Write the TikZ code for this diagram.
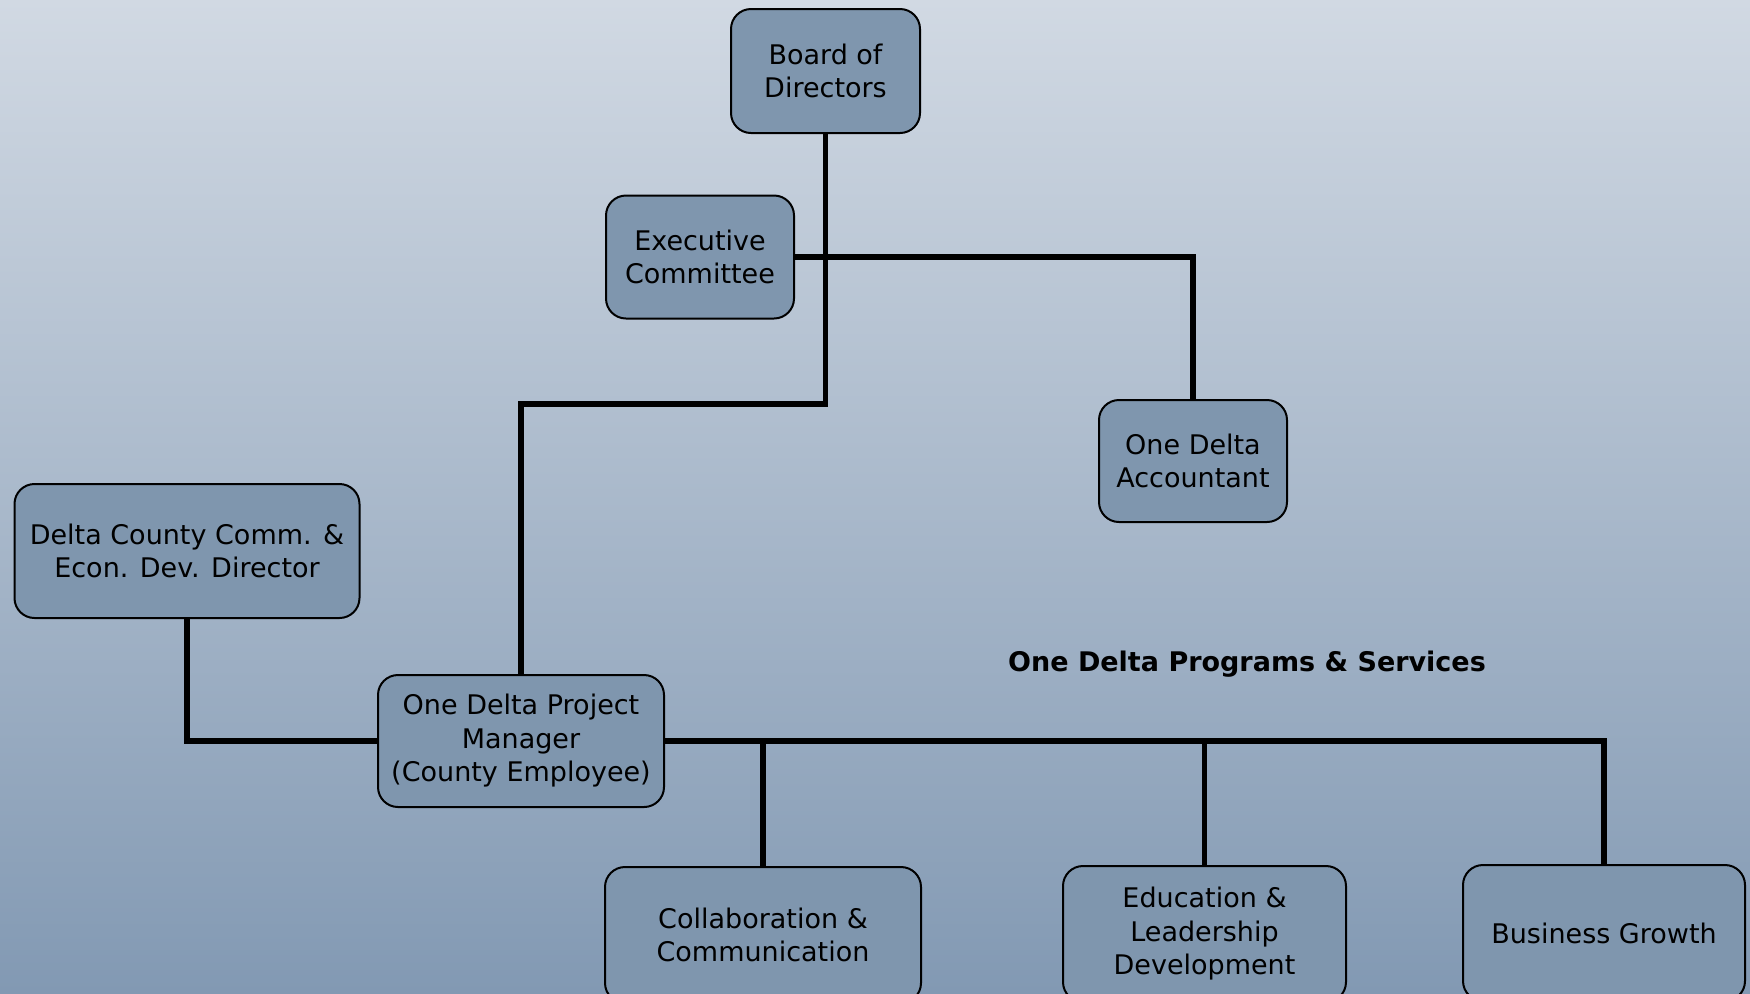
\documentclass[tikz,border=0pt]{standalone}
\usepackage{fontspec}
\setmainfont{DejaVu Sans}
\definecolor{bgtop}{HTML}{D1D9E3}
\definecolor{bgbot}{HTML}{8299B3}
\definecolor{boxfill}{HTML}{7F96AE}
\tikzset{
	box/.style={draw, fill=boxfill, rounded corners=10pt, line width=1pt, align=center, inner sep=2pt,
		font=\fontsize{13.5}{16.75}\selectfont},
	link/.style={line width=2.6pt}
}
\begin{document}
\begin{tikzpicture}[x=0.5pt, y=-0.5pt]
				%background
				\useasboundingbox (0,0) rectangle (1750,993);
				\shade[top color=bgtop, bottom color=bgbot] (0,0) rectangle (1750,993);
				%boxes
				\node[box, minimum width=94.5pt, minimum height=62pt] (board) at (825.5,71) {Board of\\Directors};
				\node[box, minimum width=94pt, minimum height=61.5pt] (exec) at (700,257) {Executive\\Committee};
				\node[box, minimum width=94pt, minimum height=61pt] (acct) at (1193,461) {One Delta\\Accountant};
				\node[box, minimum width=172.5pt, minimum height=67pt] (delta) at (187,551) {Delta County Comm. \&\\Econ. Dev. Director};
				\node[box, minimum width=143pt, minimum height=66pt] (pm) at (521,741) {One Delta Project\\Manager\\(County Employee)};
				\node[box, minimum width=158pt, minimum height=68pt] (collab) at (763,935) {Collaboration \&\\Communication};
				\node[box, minimum width=141.5pt, minimum height=68pt] (edu) at (1204.5,934) {Education \&\\Leadership\\Development};
				\node[box, minimum width=141pt, minimum height=68pt] (biz) at (1604,933) {Business Growth};
				%title
				\node[font=\fontsize{13.5}{16.75}\selectfont\bfseries] (progs) at (1247,664) {One Delta Programs \& Services};
				%lines
				\coordinate (bend) at (825.5,404);
				\draw[link] (board.south) -- (bend) -| (pm.north);
				\draw[link] (exec.east) -| (acct.north);
				\draw[link] (delta.south) |- (pm.west);
				\draw[link] (pm.east) -| (biz.north);
				\draw[link] (collab.north) -- (collab.north |- pm.east);
				\draw[link] (edu.north) -- (edu.north |- pm.east);
\end{tikzpicture}
\end{document}
